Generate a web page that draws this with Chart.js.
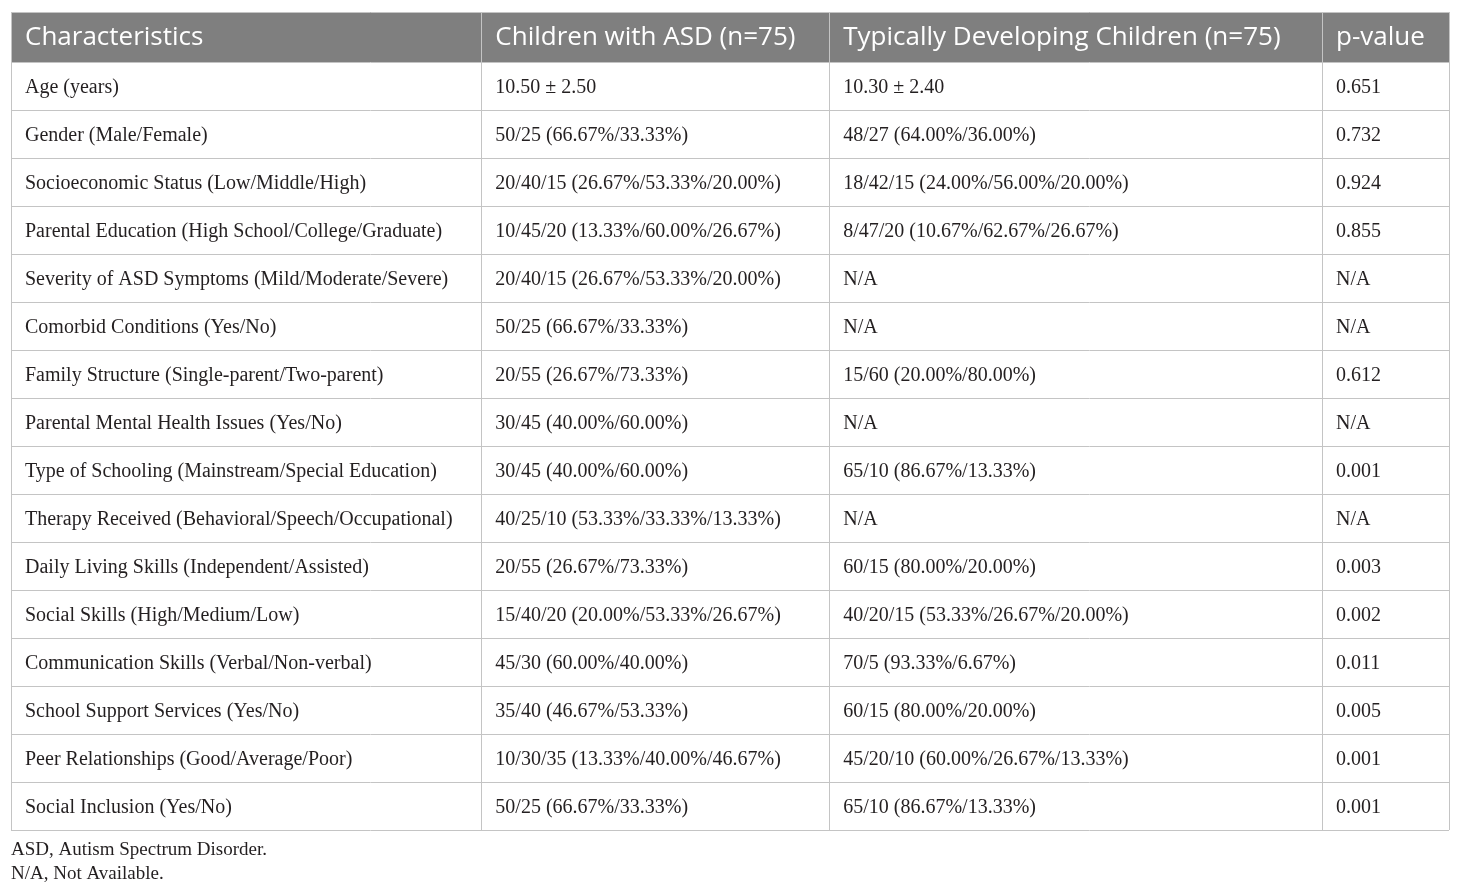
<!DOCTYPE html>
<html>
<head>
<meta charset="utf-8">
<script src="https://cdn.jsdelivr.net/npm/chart.js@4.4.1/dist/chart.umd.min.js"></script>
<style>
  html, body { margin: 0; padding: 0; background: #ffffff; }
  #wrap { width: 1460px; height: 892px; }
</style>
</head>
<body>
<div id="wrap"><canvas id="c" width="1460" height="892"></canvas></div>
<script>
// ---- data ----
const headers = ["Characteristics", "Children with ASD (n=75)", "Typically Developing Children (n=75)", "p-value"];
const characteristics = [
  "Age (years)",
  "Gender (Male/Female)",
  "Socioeconomic Status (Low/Middle/High)",
  "Parental Education (High School/College/Graduate)",
  "Severity of ASD Symptoms (Mild/Moderate/Severe)",
  "Comorbid Conditions (Yes/No)",
  "Family Structure (Single-parent/Two-parent)",
  "Parental Mental Health Issues (Yes/No)",
  "Type of Schooling (Mainstream/Special Education)",
  "Therapy Received (Behavioral/Speech/Occupational)",
  "Daily Living Skills (Independent/Assisted)",
  "Social Skills (High/Medium/Low)",
  "Communication Skills (Verbal/Non-verbal)",
  "School Support Services (Yes/No)",
  "Peer Relationships (Good/Average/Poor)",
  "Social Inclusion (Yes/No)"
];
const asdValues = [
  "10.50 \u00B1 2.50",
  "50/25 (66.67%/33.33%)",
  "20/40/15 (26.67%/53.33%/20.00%)",
  "10/45/20 (13.33%/60.00%/26.67%)",
  "20/40/15 (26.67%/53.33%/20.00%)",
  "50/25 (66.67%/33.33%)",
  "20/55 (26.67%/73.33%)",
  "30/45 (40.00%/60.00%)",
  "30/45 (40.00%/60.00%)",
  "40/25/10 (53.33%/33.33%/13.33%)",
  "20/55 (26.67%/73.33%)",
  "15/40/20 (20.00%/53.33%/26.67%)",
  "45/30 (60.00%/40.00%)",
  "35/40 (46.67%/53.33%)",
  "10/30/35 (13.33%/40.00%/46.67%)",
  "50/25 (66.67%/33.33%)"
];
const tdValues = [
  "10.30 \u00B1 2.40",
  "48/27 (64.00%/36.00%)",
  "18/42/15 (24.00%/56.00%/20.00%)",
  "8/47/20 (10.67%/62.67%/26.67%)",
  "N/A",
  "N/A",
  "15/60 (20.00%/80.00%)",
  "N/A",
  "65/10 (86.67%/13.33%)",
  "N/A",
  "60/15 (80.00%/20.00%)",
  "40/20/15 (53.33%/26.67%/20.00%)",
  "70/5 (93.33%/6.67%)",
  "60/15 (80.00%/20.00%)",
  "45/20/10 (60.00%/26.67%/13.33%)",
  "65/10 (86.67%/13.33%)"
];
const pValues = ["0.651","0.732","0.924","0.855","N/A","N/A","0.612","N/A","0.001","N/A","0.003","0.002","0.011","0.005","0.001","0.001"];
const footnotes = ["ASD, Autism Spectrum Disorder.", "N/A, Not Available."];

// ---- layout (not data) ----
const colWidths = [470.5, 348, 493, 127];
const colEdges = colWidths.reduce((a, w) => { a.push(a[a.length - 1] + w); return a; }, [0]);
const totalWidth = colEdges[colEdges.length - 1];
const headerRowUnits = 50 / 48;          // header row is slightly taller than body rows
const nRows = characteristics.length;

const tablePlugin = {
  id: 'tablePlugin',
  afterDatasetsDraw(chart) {
    const ctx = chart.ctx;
    const xs = chart.scales.x, ys = chart.scales.y;
    const top = ys.getPixelForValue(-headerRowUnits), bottom = ys.getPixelForValue(nRows);
    const left = xs.getPixelForValue(0), right = xs.getPixelForValue(totalWidth);
    ctx.save();
    // header fill
    ctx.fillStyle = '#7f7f7f';
    ctx.fillRect(left, top, right - left, ys.getPixelForValue(0) - top);
    ctx.strokeStyle = '#c4c4c4';
    ctx.lineWidth = 1;
    // horizontal lines
    const hLines = [-headerRowUnits];
    for (let r = 0; r <= nRows; r++) hLines.push(r);
    hLines.forEach(v => {
      const y = Math.round(ys.getPixelForValue(v)) + 0.5;
      ctx.beginPath(); ctx.moveTo(left, y); ctx.lineTo(right, y); ctx.stroke();
    });
    // vertical lines
    colEdges.forEach(v => {
      const x = Math.round(xs.getPixelForValue(v)) + 0.5;
      ctx.beginPath(); ctx.moveTo(x, top); ctx.lineTo(x, bottom); ctx.stroke();
    });
    // header text
    ctx.textBaseline = 'alphabetic';
    ctx.textAlign = 'left';
    ctx.fillStyle = '#ffffff';
    ctx.font = '26px "Open Sans"';
    const hy = ys.getPixelForValue(-headerRowUnits / 2) + 8;
    headers.forEach((h, c) => {
      ctx.fillText(h, xs.getPixelForValue(colEdges[c]) + 14, hy);
    });
    // body text
    ctx.fillStyle = '#231f20';
    ctx.font = '20px "Liberation Serif"';
    const cols = [characteristics, asdValues, tdValues, pValues];
    for (let r = 0; r < nRows; r++) {
      const y = ys.getPixelForValue(r + 0.5) + 6.5;
      cols.forEach((arr, c) => {
        ctx.fillText(arr[r], xs.getPixelForValue(colEdges[c]) + 14, y);
      });
    }
    ctx.restore();
  }
};

new Chart(document.getElementById('c'), {
  type: 'scatter',
  data: { datasets: [{ data: [], pointRadius: 0 }] },
  options: {
    responsive: false,
    animation: false,
    devicePixelRatio: 1,
    layout: { padding: { top: 12, left: 11, right: 11, bottom: 0 } },
    scales: {
      x: { type: 'linear', min: 0, max: totalWidth, display: false },
      y: { type: 'linear', min: -headerRowUnits, max: nRows, reverse: true, display: false }
    },
    plugins: {
      legend: { display: false },
      tooltip: { enabled: false },
      title: {
        display: true,
        position: 'bottom',
        align: 'start',
        text: footnotes,
        color: '#231f20',
        font: { family: '"Liberation Serif"', size: 19, weight: 'normal', lineHeight: 24 / 19 },
        padding: { top: 8, bottom: 6 }
      }
    }
  },
  plugins: [tablePlugin]
});
</script>
</body>
</html>
